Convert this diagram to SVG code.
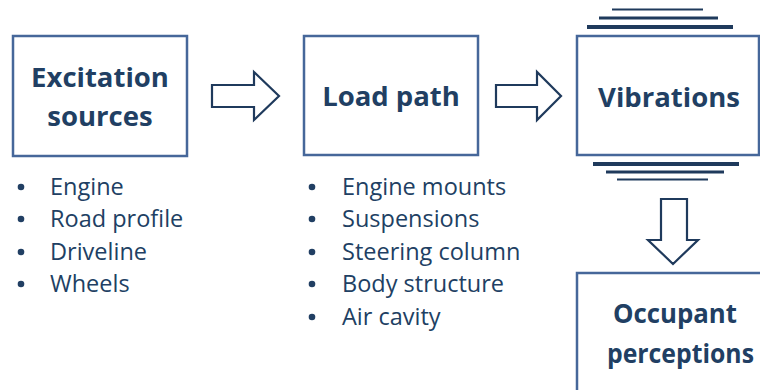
<svg xmlns="http://www.w3.org/2000/svg" width="760" height="390" viewBox="0 0 760 390">
<style>
.box{fill:#fff;stroke:#46679a;stroke-width:2.5}
.title{font-family:"Open Sans","Noto Sans",sans-serif;font-weight:bold;font-size:27.5px;fill:#213f63;text-anchor:middle}
.item{font-family:"Open Sans","Noto Sans",sans-serif;font-size:23.5px;fill:#213f63}
.dot{fill:#213f63}
.arr{fill:#fff;stroke:#1f3a5c;stroke-width:2.2;stroke-linejoin:miter}
.vl{stroke:#1f3a5c}
</style>
<rect width="760" height="390" fill="#fff"/>
<g id="excitation">
<rect class="box" x="13" y="36" width="174" height="120"/>
<text class="title" x="100" y="87">Excitation</text>
<text class="title" x="100" y="126">sources</text>
</g>
<g id="excitation-list">
<circle class="dot" cx="21" cy="187" r="3.3"/><text class="item" x="50" y="195">Engine</text>
<circle class="dot" cx="21" cy="219" r="3.3"/><text class="item" x="50" y="227">Road profile</text>
<circle class="dot" cx="21" cy="252" r="3.3"/><text class="item" x="50" y="260">Driveline</text>
<circle class="dot" cx="21" cy="284" r="3.3"/><text class="item" x="50" y="292">Wheels</text>
</g>
<g id="loadpath">
<rect class="box" x="304" y="36" width="174" height="119"/>
<text class="title" x="391" y="106">Load path</text>
</g>
<g id="loadpath-list">
<circle class="dot" cx="312" cy="187" r="3.3"/><text class="item" x="342" y="195">Engine mounts</text>
<circle class="dot" cx="312" cy="219" r="3.3"/><text class="item" x="342" y="227">Suspensions</text>
<circle class="dot" cx="312" cy="252" r="3.3"/><text class="item" x="342" y="260">Steering column</text>
<circle class="dot" cx="312" cy="284" r="3.3"/><text class="item" x="342" y="292">Body structure</text>
<circle class="dot" cx="312" cy="317" r="3.3"/><text class="item" x="342" y="325">Air cavity</text>
</g>
<g id="vibrations">
<rect class="box" x="577" y="36" width="182" height="119"/>
<text class="title" x="669" y="107">Vibrations</text>
<line class="vl" x1="612" y1="9.5" x2="703" y2="9.5" stroke-width="1.8"/>
<line class="vl" x1="599" y1="18" x2="718" y2="18" stroke-width="2.8"/>
<line class="vl" x1="587" y1="27" x2="733" y2="27" stroke-width="4"/>
<line class="vl" x1="593" y1="164" x2="739" y2="164" stroke-width="4"/>
<line class="vl" x1="606" y1="172" x2="724" y2="172" stroke-width="2.8"/>
<line class="vl" x1="617" y1="179.5" x2="708" y2="179.5" stroke-width="1.8"/>
</g>
<g id="occupant">
<rect class="box" x="577" y="273" width="200" height="130"/>
<text class="title" x="675" y="323" textLength="124" lengthAdjust="spacingAndGlyphs">Occupant</text>
<text class="title" x="680.5" y="363" textLength="147" lengthAdjust="spacingAndGlyphs">perceptions</text>
</g>
<g id="connectors">
<polygon class="arr" points="212,85 254,85 254,72 279,96 254,120 254,107 212,107"/>
<polygon class="arr" points="496,85 537,85 537,72 561,96 537,120 537,107 496,107"/>
<polygon class="arr" points="661,199 687,199 687,240 698,240 673,264 648,240 661,240"/>
</g>
</svg>
